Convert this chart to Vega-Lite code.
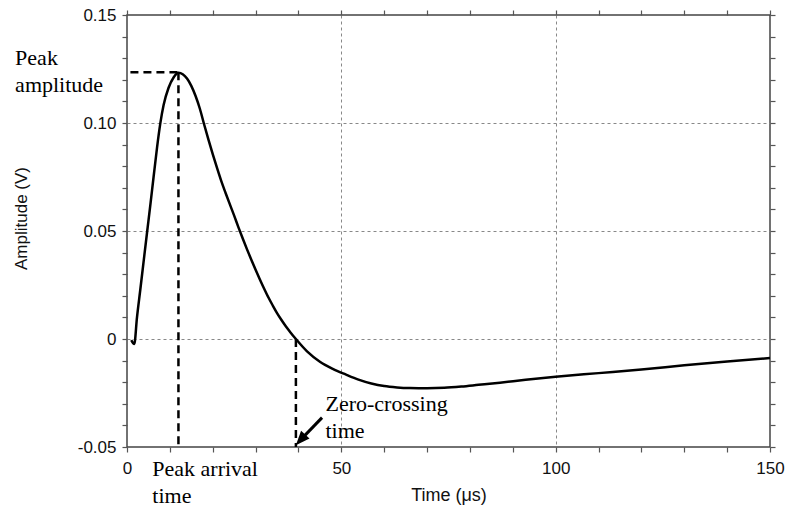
{
  "$schema": "https://vega.github.io/schema/vega-lite/v6.json",
  "width": 643,
  "height": 432,
  "autosize": {"type": "none"},
  "padding": {"left": 127, "top": 15, "right": 15, "bottom": 67},
  "background": "white",
  "config": {
    "view": {"stroke": "#444", "strokeWidth": 1.5},
    "font": "Liberation Sans"
  },
  "datasets": {
    "wave": [
      {"t": 1.0, "v": -0.0005},
      {"t": 1.7, "v": -0.0023},
      {"t": 2.33, "v": 0.0100},
      {"t": 3.1, "v": 0.0228},
      {"t": 3.9, "v": 0.0363},
      {"t": 4.67, "v": 0.0492},
      {"t": 5.44, "v": 0.0620},
      {"t": 6.2, "v": 0.0750},
      {"t": 7.0, "v": 0.0885},
      {"t": 7.77, "v": 0.0998},
      {"t": 8.54, "v": 0.1083},
      {"t": 9.7, "v": 0.1163},
      {"t": 10.9, "v": 0.1212},
      {"t": 12.0, "v": 0.1233},
      {"t": 13.0, "v": 0.1226},
      {"t": 14.0, "v": 0.1206},
      {"t": 15.0, "v": 0.1172},
      {"t": 16.0, "v": 0.1125},
      {"t": 17.0, "v": 0.1066},
      {"t": 18.0, "v": 0.0993},
      {"t": 19.0, "v": 0.0923},
      {"t": 20.0, "v": 0.0856},
      {"t": 21.0, "v": 0.0792},
      {"t": 22.0, "v": 0.0731},
      {"t": 23.0, "v": 0.0676},
      {"t": 24.0, "v": 0.0623},
      {"t": 25.0, "v": 0.0571},
      {"t": 26.0, "v": 0.0517},
      {"t": 27.0, "v": 0.0465},
      {"t": 28.0, "v": 0.0415},
      {"t": 29.0, "v": 0.0367},
      {"t": 30.0, "v": 0.0321},
      {"t": 31.0, "v": 0.0276},
      {"t": 32.0, "v": 0.0233},
      {"t": 33.0, "v": 0.0192},
      {"t": 34.0, "v": 0.0155},
      {"t": 35.0, "v": 0.0120},
      {"t": 36.0, "v": 0.0089},
      {"t": 37.0, "v": 0.0060},
      {"t": 38.0, "v": 0.0034},
      {"t": 39.4, "v": 0.0},
      {"t": 42.0, "v": -0.0057},
      {"t": 45.0, "v": -0.0105},
      {"t": 48.0, "v": -0.0138},
      {"t": 51.0, "v": -0.0164},
      {"t": 54.0, "v": -0.0188},
      {"t": 57.0, "v": -0.0206},
      {"t": 60.0, "v": -0.0218},
      {"t": 63.0, "v": -0.0224},
      {"t": 66.0, "v": -0.0227},
      {"t": 70.0, "v": -0.0228},
      {"t": 74.0, "v": -0.0226},
      {"t": 78.0, "v": -0.0220},
      {"t": 82.0, "v": -0.0212},
      {"t": 87.0, "v": -0.0202},
      {"t": 93.0, "v": -0.0189},
      {"t": 100.0, "v": -0.0175},
      {"t": 110.0, "v": -0.0158},
      {"t": 120.0, "v": -0.0141},
      {"t": 130.0, "v": -0.0122},
      {"t": 140.0, "v": -0.0104},
      {"t": 150.0, "v": -0.0088}
    ],
    "guides": [
      {"x": 0.8, "x2": 12.0, "y": 0.1235, "y2": 0.1235},
      {"x": 12.0, "x2": 12.0, "y": 0.1235, "y2": -0.05},
      {"x": 39.4, "x2": 39.4, "y": 0.0, "y2": -0.05}
    ],
    "arrow": [
      {"x": 45.5, "y": -0.0364, "x2": 40.49, "y2": -0.0467}
    ],
    "head": [
      {"x": 40.49, "y": -0.0467}
    ],
    "notes": [
      {"x": -26.1, "y": 0.1269, "label": "Peak\namplitude"},
      {"x": 5.9, "y": -0.0635, "label": "Peak arrival\ntime"},
      {"x": 46.3, "y": -0.0333, "label": "Zero-crossing\ntime"}
    ]
  },
  "layer": [
    {
      "data": {"name": "wave"},
      "mark": {"type": "line", "color": "black", "strokeWidth": 2.5, "interpolate": "monotone", "clip": false},
      "encoding": {
        "x": {
          "field": "t", "type": "quantitative",
          "scale": {"domain": [0, 150], "nice": false, "zero": false},
          "axis": {
            "orient": "bottom",
            "values": [0, 10, 20, 30, 40, 50, 60, 70, 80, 90, 100, 110, 120, 130, 140, 150],
            "format": "d",
            "labelExpr": "datum.value % 50 === 0 ? datum.label : ''",
            "labelOverlap": false,
            "labelFlush": false,
            "domain": false,
            "tickSize": 5,
            "tickColor": "#555",
            "tickWidth": 1.2,
            "labelFontSize": 17,
            "labelColor": "#111",
            "labelPadding": 8,
            "grid": true,
            "gridColor": "#888",
            "gridDash": [3, 3],
            "gridWidth": 1,
            "gridOpacity": {"condition": {"test": "datum.value % 50 === 0 && datum.value > 0 && datum.value < 150", "value": 1}, "value": 0},
            "title": "Time (μs)",
            "titleFontSize": 18,
            "titleFontWeight": "normal",
            "titleColor": "#111",
            "titlePadding": 10
          }
        },
        "y": {
          "field": "v", "type": "quantitative",
          "scale": {"domain": [-0.05, 0.15], "nice": false, "zero": false},
          "axis": {
            "orient": "left",
            "values": [-0.05, -0.04, -0.03, -0.02, -0.01, 0, 0.01, 0.02, 0.03, 0.04, 0.05, 0.06, 0.07, 0.08, 0.09, 0.1, 0.11, 0.12, 0.13, 0.14, 0.15],
            "labelExpr": "abs(round(datum.value*100)) % 5 === 0 ? (datum.value === 0 ? '0' : (datum.value < 0 ? '-' + format(-datum.value, '.2f') : format(datum.value, '.2f'))) : ''",
            "labelOverlap": false,
            "labelFlush": false,
            "domain": false,
            "tickSize": 5,
            "tickColor": "#555",
            "tickWidth": 1.2,
            "labelFontSize": 17,
            "labelColor": "#111",
            "labelPadding": 6,
            "grid": true,
            "gridColor": "#888",
            "gridDash": [3, 3],
            "gridWidth": 1,
            "gridOpacity": {"condition": {"test": "abs(round(datum.value*100)) % 5 === 0 && datum.value > -0.04 && datum.value < 0.14", "value": 1}, "value": 0},
            "title": "Amplitude (V)",
            "titleFontSize": 17,
            "titleFontWeight": "normal",
            "titleColor": "#111",
            "titleAngle": -90,
            "titleAlign": "center",
            "titleBaseline": "middle",
            "titleX": -106,
            "titleY": 203
          }
        }
      }
    },
    {
      "data": {"name": "guides"},
      "mark": {"type": "rule", "color": "black", "strokeWidth": 2.5, "strokeDash": [8, 5]},
      "encoding": {
        "x": {
          "field": "x", "type": "quantitative",
          "axis": {
            "orient": "top",
            "values": [0, 10, 20, 30, 40, 50, 60, 70, 80, 90, 100, 110, 120, 130, 140, 150],
            "labels": false,
            "domain": false,
            "grid": false,
            "tickSize": 5,
            "tickColor": "#555",
            "tickWidth": 1.2,
            "title": null
          }
        },
        "x2": {"field": "x2"},
        "y": {
          "field": "y", "type": "quantitative",
          "axis": {
            "orient": "right",
            "values": [-0.05, -0.04, -0.03, -0.02, -0.01, 0, 0.01, 0.02, 0.03, 0.04, 0.05, 0.06, 0.07, 0.08, 0.09, 0.1, 0.11, 0.12, 0.13, 0.14, 0.15],
            "labels": false,
            "domain": false,
            "grid": false,
            "tickSize": 5,
            "tickColor": "#555",
            "tickWidth": 1.2,
            "title": null
          }
        },
        "y2": {"field": "y2"}
      }
    },
    {
      "data": {"name": "arrow"},
      "mark": {"type": "rule", "color": "black", "strokeWidth": 3},
      "encoding": {
        "x": {"field": "x", "type": "quantitative", "axis": null},
        "x2": {"field": "x2"},
        "y": {"field": "y", "type": "quantitative", "axis": null},
        "y2": {"field": "y2"}
      }
    },
    {
      "data": {"name": "head"},
      "mark": {"type": "point", "shape": "M0,-1L0.8,1L-0.8,1Z", "filled": true, "color": "black", "opacity": 1, "size": 200, "angle": 222},
      "encoding": {
        "x": {"field": "x", "type": "quantitative", "axis": null},
        "y": {"field": "y", "type": "quantitative", "axis": null}
      }
    },
    {
      "data": {"name": "notes"},
      "mark": {"type": "text", "font": "Liberation Serif", "fontSize": 22, "color": "black", "align": "left", "baseline": "alphabetic", "lineBreak": "\n", "lineHeight": 27, "clip": false},
      "encoding": {
        "x": {"field": "x", "type": "quantitative", "axis": null},
        "y": {"field": "y", "type": "quantitative", "axis": null},
        "text": {"field": "label"}
      }
    }
  ],
  "resolve": {"axis": {"x": "independent", "y": "independent"}}
}
